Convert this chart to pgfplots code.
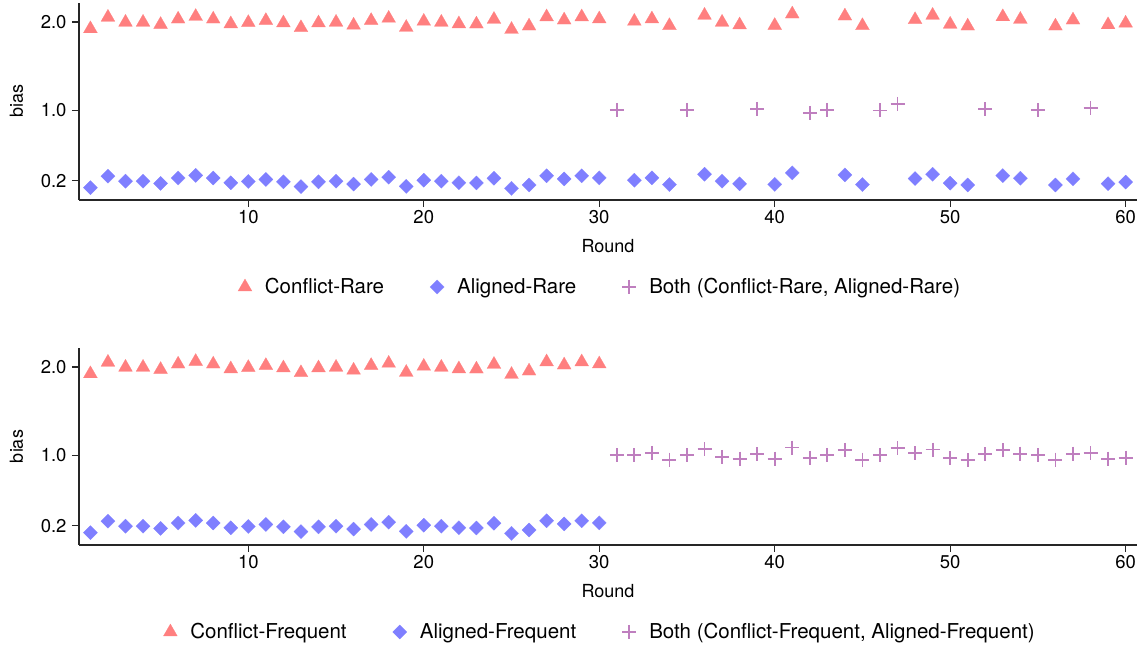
\documentclass[border=0pt]{standalone}
\usepackage{fontspec}
\setmainfont{TeX Gyre Heros}
\usepackage{pgfplots}
\pgfplotsset{compat=1.18}
\definecolor{cconf}{RGB}{255,127,127}
\definecolor{calig}{RGB}{127,127,255}
\definecolor{cboth}{RGB}{191,127,191}
\pgfplotsset{
  mystyle/.style={
    scale only axis, width=1058pt, height=197pt,
    xmin=0.35, xmax=60.65, ymin=-0.017, ymax=2.215,
    axis x line*=bottom, axis y line*=left,
    axis line style={black!85, line width=1.1pt, -},
    tick style={black!85, line width=1.1pt},
    major tick length=7pt, tick align=outside,
    xtick={10,20,30,40,50,60}, xticklabels={10,20,30,40,50,60},
    ytick={0.2,1,2}, yticklabels={0.2,1.0,2.0},
    ticklabel style={font=\fontsize{18.5}{21}\selectfont},
    yticklabel style={anchor=east, xshift=-2pt},
    xlabel={Round}, ylabel={bias},
    label style={font=\fontsize{18}{21}\selectfont},
    xlabel style={at={(axis description cs:0.5,-0.236)}, anchor=center},
    ylabel style={at={(axis description cs:-0.0591,0.5)}, anchor=center},
    legend columns=3,
    legend style={at={(axis description cs:0.4925,-0.4416)}, anchor=center, draw=none,
      font=\fontsize{20.5}{24}\selectfont,
      /tikz/every odd column/.append style={column sep=11pt},
      /tikz/every even column/.append style={column sep=44pt}},
    clip=false,
  },
  conf/.style={only marks, color=cconf, mark=triangle*, mark size=8pt, mark options={draw=cconf, fill=cconf, line width=0.2pt}},
  alig/.style={only marks, color=calig, mark=square*, mark size=5pt, mark options={draw=calig, fill=calig, line width=0.2pt, rotate=45}},
  both/.style={only marks, color=cboth, mark=+, mark size=7pt, mark options={draw=cboth, line width=1.8pt}},
}
\begin{document}
\begin{tikzpicture}
\useasboundingbox (0,0) rectangle (1146pt,645pt);
\begin{axis}[mystyle, at={(79pt,445pt)}, anchor=south west]
\addplot[conf] coordinates {
(1,1.923)(2,2.053)(3,1.996)(4,1.996)(5,1.971)(6,2.032)(7,2.062)(8,2.032)(9,1.978)(10,1.993)
(11,2.016)(12,1.989)(13,1.935)(14,1.989)(15,1.996)(16,1.963)(17,2.016)(18,2.041)(19,1.938)(20,2.007)
(21,1.996)(22,1.978)(23,1.976)(24,2.029)(25,1.915)(26,1.953)(27,2.057)(28,2.022)(29,2.057)(30,2.034)
(32,2.007)(33,2.034)(34,1.958)(36,2.075)(37,1.996)(38,1.966)(40,1.960)(41,2.090)(44,2.067)(45,1.958)
(48,2.026)(49,2.075)(50,1.974)(51,1.953)(53,2.059)(54,2.029)(56,1.953)(57,2.022)(59,1.968)(60,1.986)
};
\addlegendentry{Conflict-Rare}
\addplot[alig] coordinates {
(1,0.123)(2,0.253)(3,0.196)(4,0.196)(5,0.171)(6,0.232)(7,0.262)(8,0.232)(9,0.178)(10,0.193)
(11,0.216)(12,0.189)(13,0.135)(14,0.189)(15,0.196)(16,0.163)(17,0.216)(18,0.241)(19,0.138)(20,0.207)
(21,0.196)(22,0.178)(23,0.176)(24,0.229)(25,0.115)(26,0.153)(27,0.257)(28,0.222)(29,0.257)(30,0.234)
(32,0.207)(33,0.234)(34,0.158)(36,0.275)(37,0.196)(38,0.166)(40,0.160)(41,0.290)(44,0.267)(45,0.158)
(48,0.226)(49,0.275)(50,0.174)(51,0.153)(53,0.259)(54,0.229)(56,0.153)(57,0.222)(59,0.168)(60,0.186)
};
\addlegendentry{Aligned-Rare}
\addplot[both] coordinates {
(31,1.005)(35,1.005)(39,1.014)(42,0.970)(43,1.003)(46,0.998)(47,1.073)(52,1.011)(55,1.002)(58,1.028)
};
\addlegendentry{Both (Conflict-Rare, Aligned-Rare)}
\end{axis}
\begin{axis}[mystyle, at={(79pt,100pt)}, anchor=south west]
\addplot[conf] coordinates {
(1,1.923)(2,2.053)(3,1.996)(4,1.996)(5,1.971)(6,2.032)(7,2.062)(8,2.032)(9,1.978)(10,1.993)
(11,2.016)(12,1.989)(13,1.935)(14,1.989)(15,1.996)(16,1.963)(17,2.016)(18,2.041)(19,1.938)(20,2.007)
(21,1.996)(22,1.978)(23,1.976)(24,2.029)(25,1.915)(26,1.953)(27,2.057)(28,2.022)(29,2.057)(30,2.034)
};
\addlegendentry{Conflict-Frequent}
\addplot[alig] coordinates {
(1,0.123)(2,0.253)(3,0.196)(4,0.196)(5,0.171)(6,0.232)(7,0.262)(8,0.232)(9,0.178)(10,0.193)
(11,0.216)(12,0.189)(13,0.135)(14,0.189)(15,0.196)(16,0.163)(17,0.216)(18,0.241)(19,0.138)(20,0.207)
(21,0.196)(22,0.178)(23,0.176)(24,0.229)(25,0.115)(26,0.153)(27,0.257)(28,0.222)(29,0.257)(30,0.234)
};
\addlegendentry{Aligned-Frequent}
\addplot[both] coordinates {
(31,1.002)(32,1.000)(33,1.026)(34,0.950)(35,1.003)(36,1.068)(37,0.981)(38,0.961)(39,1.012)(40,0.961)
(41,1.087)(42,0.972)(43,1.003)(44,1.060)(45,0.950)(46,0.999)(47,1.078)(48,1.023)(49,1.064)(50,0.966)
(51,0.946)(52,1.011)(53,1.057)(54,1.018)(55,1.001)(56,0.950)(57,1.018)(58,1.025)(59,0.961)(60,0.973)
};
\addlegendentry{Both (Conflict-Frequent, Aligned-Frequent)}
\end{axis}
\end{tikzpicture}
\end{document}
